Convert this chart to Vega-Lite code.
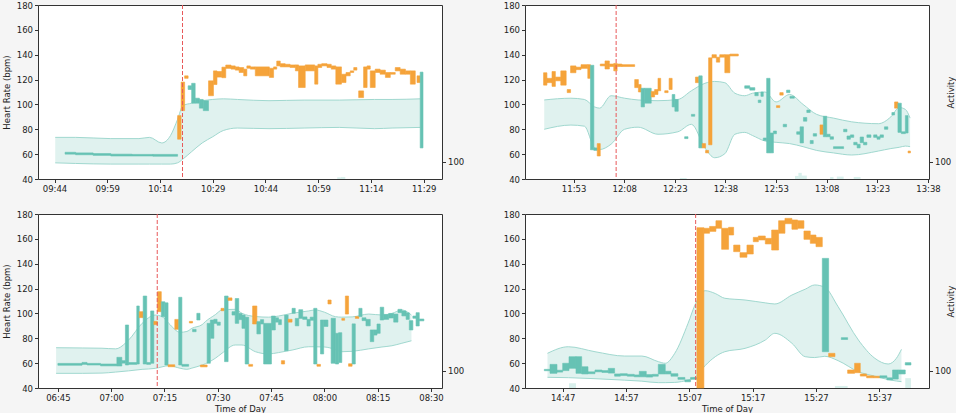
{
"$schema": "https://vega.github.io/schema/vega-lite/v6.json",
"background": "#f5f5f5",
"padding": {"left": 1, "top": 0, "right": 0, "bottom": 0},
"config": {
 "view": {"stroke": "#333333", "strokeWidth": 1, "fill": "white"},
 "axis": {"grid": false, "domain": false, "tickColor": "#333333", "tickSize": 3.5, "labelFont": "DejaVu Sans", "labelFontSize": 8.5, "labelColor": "#222222", "labelPadding": 2, "titleFont": "DejaVu Sans", "titleFontSize": 8.5, "titleFontWeight": "normal", "titleColor": "#222222", "titlePadding": 5},
 "axisX": {"titlePadding": 2}
},
"datasets": {
 "ev": [{"p":"A","t":620.4},{"p":"B","t":725.6},{"p":"C","t":432.96},{"p":"D","t":908.0}],
 "act": [
  {"p":"A","t":664.4,"t2":665.5,"a":10},{"p":"A","t":665.5,"t2":666.7,"a":12},
  {"p":"B","t":744.5,"t2":746.5,"a":6},{"p":"B","t":778.6,"t2":779.6,"a":18},{"p":"B","t":779.6,"t2":780.6,"a":36},{"p":"B","t":780.6,"t2":782.1,"a":20},{"p":"B","t":789.0,"t2":790.0,"a":12},{"p":"B","t":791.0,"t2":793.0,"a":14},{"p":"B","t":796.0,"t2":798.0,"a":12},
  {"p":"D","t":888.0,"t2":889.1,"a":28},{"p":"D","t":908.2,"t2":909.3,"a":15},{"p":"D","t":930.0,"t2":932.0,"a":12},{"p":"D","t":941.1,"t2":942.0,"a":58}
 ],
 "band": [
  {"p":"A","t":584.2,"lo":53,"hi":73.5},{"p":"A","t":590,"lo":52.5,"hi":73.5},{"p":"A","t":600,"lo":52,"hi":72.5},{"p":"A","t":608,"lo":52,"hi":72.5},{"p":"A","t":611,"lo":52,"hi":73.5},{"p":"A","t":614.5,"lo":52,"hi":69},{"p":"A","t":617,"lo":52,"hi":75},{"p":"A","t":619,"lo":53,"hi":88},{"p":"A","t":620.5,"lo":56,"hi":99},{"p":"A","t":623,"lo":62,"hi":101},{"p":"A","t":626,"lo":69,"hi":103},{"p":"A","t":629,"lo":74,"hi":104},{"p":"A","t":632,"lo":79,"hi":104.5},{"p":"A","t":636,"lo":81,"hi":104},{"p":"A","t":645,"lo":80.5,"hi":103},{"p":"A","t":655,"lo":81,"hi":103.5},{"p":"A","t":665,"lo":81.5,"hi":103.5},{"p":"A","t":675,"lo":80.5,"hi":104},{"p":"A","t":680,"lo":81,"hi":104},{"p":"A","t":688,"lo":81.5,"hi":104.5},
  {"p":"B","t":704.3,"lo":80,"hi":103.6},{"p":"B","t":712.2,"lo":83.4,"hi":105},{"p":"B","t":716.2,"lo":82.5,"hi":104},{"p":"B","t":719.2,"lo":65.2,"hi":98},{"p":"B","t":720.7,"lo":63.7,"hi":97},{"p":"B","t":724.1,"lo":68,"hi":107},{"p":"B","t":728.1,"lo":80,"hi":105},{"p":"B","t":732.1,"lo":81.7,"hi":103.6},{"p":"B","t":738.0,"lo":76,"hi":103},{"p":"B","t":743.9,"lo":78,"hi":104},{"p":"B","t":747.9,"lo":84,"hi":111},{"p":"B","t":751.9,"lo":65,"hi":117},{"p":"B","t":754.8,"lo":57.1,"hi":118.5},{"p":"B","t":757.8,"lo":60.3,"hi":117.5},{"p":"B","t":760.8,"lo":76,"hi":109},{"p":"B","t":763.7,"lo":77.5,"hi":107},{"p":"B","t":766.0,"lo":75,"hi":109},{"p":"B","t":769.7,"lo":70.6,"hi":110},{"p":"B","t":773,"lo":69.5,"hi":102},{"p":"B","t":777,"lo":68.5,"hi":108},{"p":"B","t":781,"lo":66,"hi":100},{"p":"B","t":785,"lo":63,"hi":92},{"p":"B","t":790,"lo":61,"hi":89},{"p":"B","t":795.4,"lo":59.3,"hi":86},{"p":"B","t":803.3,"lo":62.5,"hi":84.5},{"p":"B","t":807,"lo":64.5,"hi":90},{"p":"B","t":809.5,"lo":65.5,"hi":97.5},{"p":"B","t":811.3,"lo":66.5,"hi":96},{"p":"B","t":812.7,"lo":66,"hi":89},
  {"p":"C","t":404.5,"lo":51.8,"hi":72.4},{"p":"C","t":412,"lo":51.8,"hi":72.2},{"p":"C","t":417.4,"lo":52,"hi":72},{"p":"C","t":421.2,"lo":52.8,"hi":71.5},{"p":"C","t":424.9,"lo":53.8,"hi":78.6},{"p":"C","t":428.7,"lo":55,"hi":92},{"p":"C","t":432.4,"lo":55.8,"hi":98.7},{"p":"C","t":434.3,"lo":57,"hi":97.5},{"p":"C","t":436.2,"lo":58,"hi":92},{"p":"C","t":439.4,"lo":55.9,"hi":84.8},{"p":"C","t":441.3,"lo":55,"hi":85.5},{"p":"C","t":442.7,"lo":56,"hi":88},{"p":"C","t":445.6,"lo":58.5,"hi":91},{"p":"C","t":446.5,"lo":59.5,"hi":93.4},{"p":"C","t":449.3,"lo":63.9,"hi":99},{"p":"C","t":451.2,"lo":68,"hi":102.8},{"p":"C","t":454.9,"lo":74.6,"hi":103.3},{"p":"C","t":456.8,"lo":74.6,"hi":100.1},{"p":"C","t":460.6,"lo":69.2,"hi":97.5},{"p":"C","t":464.3,"lo":67.4,"hi":97},{"p":"C","t":467.1,"lo":68.5,"hi":97.9},{"p":"C","t":470.9,"lo":70.5,"hi":100.1},{"p":"C","t":475.6,"lo":73.2,"hi":102},{"p":"C","t":477.4,"lo":73.2,"hi":102.8},{"p":"C","t":480,"lo":73,"hi":101},{"p":"C","t":483.1,"lo":71,"hi":97.4},{"p":"C","t":484.9,"lo":69.2,"hi":97},{"p":"C","t":487.8,"lo":69.5,"hi":97.2},{"p":"C","t":492.5,"lo":71.5,"hi":99.5},{"p":"C","t":496.2,"lo":73,"hi":98.7},{"p":"C","t":499,"lo":74,"hi":100},{"p":"C","t":501.8,"lo":76,"hi":102.8},{"p":"C","t":504.5,"lo":78,"hi":98.7},
  {"p":"D","t":884.6,"lo":48.6,"hi":67.9},{"p":"D","t":887.9,"lo":48.3,"hi":73.2},{"p":"D","t":892.1,"lo":47.5,"hi":69.2},{"p":"D","t":896.8,"lo":46.3,"hi":65.7},{"p":"D","t":899.5,"lo":45.5,"hi":65.7},{"p":"D","t":902.1,"lo":44.3,"hi":61.2},{"p":"D","t":903.2,"lo":44.3,"hi":59.9},{"p":"D","t":904.7,"lo":44.5,"hi":67.9},{"p":"D","t":906.8,"lo":46.5,"hi":92},{"p":"D","t":908.0,"lo":49,"hi":108.1},{"p":"D","t":909.5,"lo":58,"hi":118.3},{"p":"D","t":911.1,"lo":65.2,"hi":116},{"p":"D","t":912.6,"lo":69.2,"hi":112.2},{"p":"D","t":915.8,"lo":71.9,"hi":110.8},{"p":"D","t":919.0,"lo":78.6,"hi":108.5},{"p":"D","t":920.5,"lo":84,"hi":107.6},{"p":"D","t":923.2,"lo":76,"hi":114.8},{"p":"D","t":925.3,"lo":65.2,"hi":119.5},{"p":"D","t":926.8,"lo":64.5,"hi":122.9},{"p":"D","t":928.4,"lo":65.5,"hi":121},{"p":"D","t":930.5,"lo":62,"hi":105.4},{"p":"D","t":933.7,"lo":53.1,"hi":78.6},{"p":"D","t":936.3,"lo":49.5,"hi":63.9},{"p":"D","t":938.4,"lo":46.8,"hi":59.3},{"p":"D","t":939.7,"lo":45.6,"hi":63.9},{"p":"D","t":940.5,"lo":45.1,"hi":71.1}
 ],
 "hr": [
  {"p":"A","t":587,"t2":590,"lo":60,"hi":61.5,"c":"T"},{"p":"A","t":590,"t2":595,"lo":59.5,"hi":61,"c":"T"},{"p":"A","t":595,"t2":600,"lo":59,"hi":60.5,"c":"T"},{"p":"A","t":600,"t2":606,"lo":58.5,"hi":60,"c":"T"},{"p":"A","t":606,"t2":612,"lo":58.5,"hi":59.8,"c":"T"},{"p":"A","t":612,"t2":619,"lo":58.3,"hi":59.8,"c":"T"},
  {"p":"A","t":619.0,"t2":620.0,"lo":72,"hi":91,"c":"O"},{"p":"A","t":620.0,"t2":621.0,"lo":95,"hi":118,"c":"O"},{"p":"A","t":621.0,"t2":622.0,"lo":121,"hi":123,"c":"O"},{"p":"A","t":622.0,"t2":623.0,"lo":112,"hi":115,"c":"T"},{"p":"A","t":623.0,"t2":624.0,"lo":101,"hi":117,"c":"T"},{"p":"A","t":624.0,"t2":625.2,"lo":101,"hi":105,"c":"T"},{"p":"A","t":625.2,"t2":626.3,"lo":97,"hi":104,"c":"T"},{"p":"A","t":626.3,"t2":627.8,"lo":95,"hi":103,"c":"T"},
  {"p":"A","t":627.8,"t2":629.2,"lo":107,"hi":119,"c":"O"},{"p":"A","t":629.2,"t2":630.2,"lo":116,"hi":127,"c":"O"},{"p":"A","t":630.2,"t2":631.6,"lo":122,"hi":126.5,"c":"O"},{"p":"A","t":631.6,"t2":632.7,"lo":121.5,"hi":130,"c":"O"},{"p":"A","t":632.7,"t2":634.2,"lo":129,"hi":131.7,"c":"O"},{"p":"A","t":634.2,"t2":635.4,"lo":128.4,"hi":131,"c":"O"},{"p":"A","t":635.4,"t2":636.5,"lo":127.6,"hi":130.2,"c":"O"},{"p":"A","t":636.5,"t2":637.8,"lo":125.7,"hi":129.7,"c":"O"},{"p":"A","t":637.8,"t2":638.7,"lo":123,"hi":128.4,"c":"O"},{"p":"A","t":638.7,"t2":639.7,"lo":129.1,"hi":131,"c":"O"},{"p":"A","t":639.7,"t2":641.1,"lo":128.4,"hi":130.2,"c":"O"},{"p":"A","t":641.1,"t2":645.1,"lo":123,"hi":130.2,"c":"O"},{"p":"A","t":645.1,"t2":646.3,"lo":121.7,"hi":129.1,"c":"O"},{"p":"A","t":646.3,"t2":647.2,"lo":128.4,"hi":130.2,"c":"O"},{"p":"A","t":647.2,"t2":648.2,"lo":131,"hi":134.9,"c":"O"},{"p":"A","t":648.2,"t2":649.6,"lo":130.2,"hi":132.8,"c":"O"},{"p":"A","t":649.6,"t2":651.0,"lo":130.2,"hi":132.3,"c":"O"},{"p":"A","t":651.0,"t2":652.5,"lo":129.7,"hi":131.8,"c":"O"},{"p":"A","t":652.5,"t2":653.4,"lo":127,"hi":131.8,"c":"O"},{"p":"A","t":653.4,"t2":655.3,"lo":113.6,"hi":131,"c":"O"},{"p":"A","t":655.3,"t2":658.0,"lo":127,"hi":131.8,"c":"O"},{"p":"A","t":658.0,"t2":658.9,"lo":116.3,"hi":131,"c":"O"},{"p":"A","t":658.9,"t2":660.0,"lo":129.7,"hi":132.3,"c":"O"},{"p":"A","t":660.0,"t2":661.5,"lo":131,"hi":132.8,"c":"O"},{"p":"A","t":661.5,"t2":662.7,"lo":129.7,"hi":132.3,"c":"O"},{"p":"A","t":662.7,"t2":664.0,"lo":128.4,"hi":131,"c":"O"},{"p":"A","t":664.0,"t2":665.6,"lo":116.3,"hi":130.2,"c":"O"},{"p":"A","t":665.6,"t2":666.9,"lo":117.6,"hi":124.3,"c":"O"},{"p":"A","t":666.9,"t2":668.1,"lo":123,"hi":125.7,"c":"O"},{"p":"A","t":668.1,"t2":669.1,"lo":125.7,"hi":127,"c":"O"},{"p":"A","t":669.1,"t2":670.0,"lo":127.6,"hi":129.7,"c":"O"},{"p":"A","t":670.5,"t2":671.9,"lo":105.5,"hi":110.9,"c":"O"},{"p":"A","t":671.9,"t2":672.9,"lo":113.6,"hi":130.2,"c":"O"},{"p":"A","t":672.9,"t2":673.8,"lo":128.4,"hi":131,"c":"O"},{"p":"A","t":673.8,"t2":675.2,"lo":113.6,"hi":127,"c":"O"},{"p":"A","t":675.2,"t2":676.6,"lo":125.7,"hi":128.4,"c":"O"},{"p":"A","t":676.6,"t2":678.1,"lo":124.3,"hi":127.6,"c":"O"},{"p":"A","t":678.1,"t2":679.5,"lo":121.7,"hi":125.7,"c":"O"},{"p":"A","t":679.5,"t2":680.9,"lo":124.3,"hi":125.7,"c":"O"},{"p":"A","t":680.9,"t2":682.3,"lo":127,"hi":129.7,"c":"O"},{"p":"A","t":682.3,"t2":683.8,"lo":124.3,"hi":128.4,"c":"O"},{"p":"A","t":683.8,"t2":685.2,"lo":124.3,"hi":127,"c":"O"},{"p":"A","t":685.2,"t2":686.6,"lo":116.3,"hi":127,"c":"O"},{"p":"A","t":687.1,"t2":688.0,"lo":117.6,"hi":123,"c":"O"},{"p":"A","t":688.0,"t2":688.8,"lo":65,"hi":126,"c":"T"},
  {"p":"B","t":704.1,"t2":705.1,"lo":115.5,"hi":125.5,"c":"O"},{"p":"B","t":705.1,"t2":706.6,"lo":117.5,"hi":121,"c":"O"},{"p":"B","t":706.6,"t2":707.6,"lo":114.5,"hi":126.5,"c":"O"},{"p":"B","t":707.6,"t2":709.2,"lo":119,"hi":122,"c":"O"},{"p":"B","t":709.2,"t2":710.8,"lo":115.5,"hi":127,"c":"O"},{"p":"B","t":711.1,"t2":712.1,"lo":109.5,"hi":112,"c":"O"},{"p":"B","t":712.1,"t2":713.7,"lo":125.5,"hi":131,"c":"O"},{"p":"B","t":713.7,"t2":715.2,"lo":128,"hi":130,"c":"O"},{"p":"B","t":715.2,"t2":717.2,"lo":129,"hi":132,"c":"O"},{"p":"B","t":717.2,"t2":718.0,"lo":121,"hi":132,"c":"O"},{"p":"B","t":718.0,"t2":719.0,"lo":63.5,"hi":131.5,"c":"T"},{"p":"B","t":719.0,"t2":720.0,"lo":63,"hi":65,"c":"T"},{"p":"B","t":720.0,"t2":720.9,"lo":58.5,"hi":68.5,"c":"O"},{"p":"B","t":720.9,"t2":722.3,"lo":131,"hi":132.5,"c":"O"},{"p":"B","t":722.3,"t2":723.6,"lo":128.5,"hi":135,"c":"O"},{"p":"B","t":723.6,"t2":724.9,"lo":130.5,"hi":132.5,"c":"O"},{"p":"B","t":724.9,"t2":725.9,"lo":127,"hi":133,"c":"O"},{"p":"B","t":725.9,"t2":727.3,"lo":130.5,"hi":132.5,"c":"O"},{"p":"B","t":727.3,"t2":731.1,"lo":130.5,"hi":132,"c":"O"},{"p":"B","t":731.1,"t2":732.2,"lo":113.5,"hi":120,"c":"O"},{"p":"B","t":732.2,"t2":733.0,"lo":110,"hi":116,"c":"O"},{"p":"B","t":733.0,"t2":734.0,"lo":98,"hi":113,"c":"T"},{"p":"B","t":734.0,"t2":736.0,"lo":101,"hi":113,"c":"T"},{"p":"B","t":736.0,"t2":737.0,"lo":106,"hi":110.5,"c":"O"},{"p":"B","t":737.0,"t2":738.0,"lo":108,"hi":112,"c":"O"},{"p":"B","t":738.0,"t2":738.8,"lo":111,"hi":121,"c":"O"},{"p":"B","t":740.0,"t2":741.0,"lo":109.5,"hi":111,"c":"O"},{"p":"B","t":741.3,"t2":742.2,"lo":112,"hi":121,"c":"O"},{"p":"B","t":742.2,"t2":743.0,"lo":98,"hi":108,"c":"T"},{"p":"B","t":743.0,"t2":744.0,"lo":94.5,"hi":104,"c":"T"},{"p":"B","t":745.9,"t2":746.9,"lo":72.5,"hi":74,"c":"T"},{"p":"B","t":747.9,"t2":748.9,"lo":90.5,"hi":92,"c":"T"},{"p":"B","t":749.1,"t2":750.1,"lo":117.5,"hi":122,"c":"O"},{"p":"B","t":750.1,"t2":751.1,"lo":65,"hi":123,"c":"T"},{"p":"B","t":751.1,"t2":752.1,"lo":65,"hi":68.5,"c":"O"},{"p":"B","t":752.1,"t2":753.0,"lo":61,"hi":63,"c":"O"},{"p":"B","t":753.0,"t2":754.0,"lo":67.5,"hi":137.5,"c":"O"},{"p":"B","t":754.0,"t2":755.3,"lo":137.5,"hi":140,"c":"O"},{"p":"B","t":755.3,"t2":756.3,"lo":134,"hi":138,"c":"O"},{"p":"B","t":756.3,"t2":757.8,"lo":138,"hi":140,"c":"O"},{"p":"B","t":757.8,"t2":759.3,"lo":125.5,"hi":140,"c":"O"},{"p":"B","t":759.3,"t2":761.8,"lo":139,"hi":140.5,"c":"O"},
  {"p":"B","t":763.7,"t2":765.2,"lo":113,"hi":115,"c":"T"},{"p":"B","t":765.2,"t2":766.7,"lo":111.5,"hi":113.5,"c":"T"},{"p":"B","t":766.7,"t2":767.7,"lo":107,"hi":109.5,"c":"T"},{"p":"B","t":767.7,"t2":768.5,"lo":101.5,"hi":103.5,"c":"T"},{"p":"B","t":768.5,"t2":769.2,"lo":106.5,"hi":110,"c":"T"},{"p":"B","t":769.2,"t2":770.2,"lo":71,"hi":73,"c":"T"},{"p":"B","t":770.2,"t2":771.2,"lo":61,"hi":121,"c":"T"},{"p":"B","t":771.2,"t2":772.2,"lo":61,"hi":77,"c":"T"},{"p":"B","t":772.2,"t2":773.1,"lo":76.4,"hi":78.6,"c":"T"},{"p":"B","t":773.1,"t2":774.1,"lo":97.5,"hi":99,"c":"O"},{"p":"B","t":774.1,"t2":775.1,"lo":107.5,"hi":109.5,"c":"O"},{"p":"B","t":775.1,"t2":776.1,"lo":82,"hi":84,"c":"T"},{"p":"B","t":776.1,"t2":777.1,"lo":109.5,"hi":111.5,"c":"T"},{"p":"B","t":777.1,"t2":778.4,"lo":105,"hi":106.5,"c":"T"},{"p":"B","t":779.1,"t2":780.1,"lo":76,"hi":78,"c":"T"},{"p":"B","t":780.1,"t2":781.1,"lo":69,"hi":82,"c":"T"},{"p":"B","t":781.1,"t2":782.1,"lo":86.5,"hi":89.5,"c":"T"},{"p":"B","t":782.1,"t2":783.1,"lo":93.5,"hi":95.5,"c":"T"},{"p":"B","t":783.1,"t2":784.0,"lo":68.5,"hi":71,"c":"T"},{"p":"B","t":784.0,"t2":785.0,"lo":74.5,"hi":76.5,"c":"T"},{"p":"B","t":786.0,"t2":787.0,"lo":76,"hi":83.5,"c":"O"},{"p":"B","t":787.0,"t2":788.0,"lo":74,"hi":90.5,"c":"T"},{"p":"B","t":788.0,"t2":789.0,"lo":74,"hi":76,"c":"T"},{"p":"B","t":789.0,"t2":790.0,"lo":72,"hi":74,"c":"T"},{"p":"B","t":790.0,"t2":793.0,"lo":64.5,"hi":66,"c":"T"},{"p":"B","t":793.0,"t2":794.0,"lo":78,"hi":80,"c":"T"},{"p":"B","t":794.0,"t2":795.0,"lo":72,"hi":74.6,"c":"T"},{"p":"B","t":795.0,"t2":796.0,"lo":73.5,"hi":75.5,"c":"T"},{"p":"B","t":796.0,"t2":797.0,"lo":67.5,"hi":69.5,"c":"T"},{"p":"B","t":797.0,"t2":797.9,"lo":65,"hi":68,"c":"T"},{"p":"B","t":797.9,"t2":798.9,"lo":69.2,"hi":73.8,"c":"T"},{"p":"B","t":798.9,"t2":799.9,"lo":67.5,"hi":69.5,"c":"T"},{"p":"B","t":799.9,"t2":801.1,"lo":73.5,"hi":75.5,"c":"T"},{"p":"B","t":801.9,"t2":802.9,"lo":73.5,"hi":75.5,"c":"T"},{"p":"B","t":802.9,"t2":803.8,"lo":72,"hi":74,"c":"T"},{"p":"B","t":803.8,"t2":804.8,"lo":73.5,"hi":75.5,"c":"T"},{"p":"B","t":805.1,"t2":806.1,"lo":80,"hi":82,"c":"T"},{"p":"B","t":807.3,"t2":808.1,"lo":91.5,"hi":93.5,"c":"T"},{"p":"B","t":808.1,"t2":809.1,"lo":97,"hi":102,"c":"O"},{"p":"B","t":809.1,"t2":810.1,"lo":77.5,"hi":101,"c":"T"},{"p":"B","t":810.1,"t2":811.3,"lo":76.5,"hi":78,"c":"T"},{"p":"B","t":811.3,"t2":812.1,"lo":77,"hi":91,"c":"T"},{"p":"B","t":812.1,"t2":812.8,"lo":61,"hi":62.5,"c":"O"},
  {"p":"C","t":405.0,"t2":411.8,"lo":58.3,"hi":59.8,"c":"T"},{"p":"C","t":411.8,"t2":413.2,"lo":59,"hi":60.6,"c":"T"},{"p":"C","t":413.2,"t2":417,"lo":58.5,"hi":59.8,"c":"T"},{"p":"C","t":417,"t2":421.6,"lo":57.8,"hi":59.3,"c":"T"},{"p":"C","t":421.6,"t2":423.0,"lo":57.7,"hi":64.7,"c":"T"},{"p":"C","t":423.0,"t2":424.0,"lo":60,"hi":62,"c":"T"},{"p":"C","t":424.0,"t2":424.9,"lo":58.5,"hi":90.7,"c":"T"},{"p":"C","t":424.9,"t2":427.2,"lo":59,"hi":60.5,"c":"T"},{"p":"C","t":427.2,"t2":427.9,"lo":59.3,"hi":106,"c":"T"},{"p":"C","t":427.9,"t2":429.0,"lo":96.6,"hi":101.4,"c":"O"},{"p":"C","t":429.0,"t2":430.0,"lo":59.3,"hi":114,"c":"T"},{"p":"C","t":430.0,"t2":431.1,"lo":59,"hi":60.5,"c":"T"},{"p":"C","t":431.1,"t2":432.0,"lo":59.9,"hi":102,"c":"T"},{"p":"C","t":432.0,"t2":433.0,"lo":91,"hi":93.6,"c":"O"},{"p":"C","t":433.0,"t2":434.1,"lo":101.4,"hi":117.5,"c":"O"},{"p":"C","t":434.1,"t2":435.1,"lo":97.4,"hi":109.4,"c":"T"},{"p":"C","t":435.1,"t2":436.0,"lo":58.5,"hi":108.5,"c":"T"},{"p":"C","t":436.0,"t2":437.9,"lo":57.1,"hi":58.7,"c":"O"},{"p":"C","t":437.9,"t2":439.0,"lo":87.2,"hi":95.2,"c":"O"},{"p":"C","t":439.0,"t2":439.9,"lo":58.5,"hi":113,"c":"T"},{"p":"C","t":439.9,"t2":441.8,"lo":57.5,"hi":59,"c":"T"},{"p":"C","t":442.0,"t2":442.9,"lo":92.3,"hi":93.6,"c":"O"},{"p":"C","t":442.9,"t2":443.9,"lo":85.3,"hi":87.2,"c":"T"},{"p":"C","t":444.1,"t2":445.0,"lo":94.7,"hi":100.1,"c":"T"},{"p":"C","t":445.1,"t2":447.0,"lo":57,"hi":58.5,"c":"O"},{"p":"C","t":447.0,"t2":447.9,"lo":59.9,"hi":92,"c":"T"},{"p":"C","t":447.9,"t2":448.9,"lo":80,"hi":94.7,"c":"T"},{"p":"C","t":448.9,"t2":449.8,"lo":92,"hi":95.3,"c":"T"},{"p":"C","t":449.8,"t2":450.7,"lo":90.5,"hi":93,"c":"T"},{"p":"C","t":450.9,"t2":451.8,"lo":102.2,"hi":104.1,"c":"O"},{"p":"C","t":451.9,"t2":452.9,"lo":61.2,"hi":114,"c":"T"},{"p":"C","t":452.9,"t2":454.0,"lo":110.5,"hi":112.5,"c":"O"},{"p":"C","t":454.0,"t2":454.9,"lo":98.7,"hi":101.4,"c":"T"},{"p":"C","t":454.9,"t2":455.9,"lo":92,"hi":112,"c":"T"},{"p":"C","t":455.9,"t2":456.8,"lo":95,"hi":100,"c":"T"},{"p":"C","t":456.8,"t2":457.7,"lo":88,"hi":98.7,"c":"T"},{"p":"C","t":457.7,"t2":458.7,"lo":59.3,"hi":97,"c":"T"},{"p":"C","t":458.7,"t2":459.8,"lo":57.5,"hi":59,"c":"O"},{"p":"C","t":459.8,"t2":461.0,"lo":91.5,"hi":106,"c":"O"},{"p":"C","t":461.0,"t2":462.0,"lo":83.5,"hi":93.4,"c":"T"},{"p":"C","t":462.0,"t2":462.9,"lo":91.5,"hi":95,"c":"T"},{"p":"C","t":462.9,"t2":465.1,"lo":59.3,"hi":92,"c":"T"},{"p":"C","t":465.1,"t2":466.2,"lo":86.7,"hi":97.9,"c":"T"},{"p":"C","t":466.2,"t2":467.1,"lo":93,"hi":96.5,"c":"T"},{"p":"C","t":467.1,"t2":467.9,"lo":91,"hi":95,"c":"T"},{"p":"C","t":467.9,"t2":468.8,"lo":59.3,"hi":62,"c":"O"},{"p":"C","t":468.8,"t2":469.8,"lo":70,"hi":98.7,"c":"T"},{"p":"C","t":469.8,"t2":470.9,"lo":93,"hi":95.3,"c":"O"},{"p":"C","t":470.9,"t2":471.8,"lo":100.1,"hi":104.1,"c":"T"},{"p":"C","t":471.8,"t2":472.8,"lo":90,"hi":96,"c":"T"},{"p":"C","t":472.8,"t2":473.9,"lo":96,"hi":103,"c":"T"},{"p":"C","t":473.9,"t2":475.1,"lo":95.2,"hi":97.2,"c":"T"},{"p":"C","t":475.1,"t2":476.0,"lo":89.9,"hi":95.2,"c":"T"},{"p":"C","t":476.0,"t2":477.0,"lo":94.5,"hi":97,"c":"T"},{"p":"C","t":477.0,"t2":477.9,"lo":59.3,"hi":104.1,"c":"T"},{"p":"C","t":477.9,"t2":478.9,"lo":57.5,"hi":59,"c":"O"},{"p":"C","t":478.9,"t2":479.8,"lo":67.4,"hi":94.7,"c":"T"},{"p":"C","t":479.8,"t2":481.0,"lo":89.5,"hi":94.7,"c":"T"},{"p":"C","t":481.0,"t2":481.9,"lo":107.6,"hi":110.8,"c":"O"},{"p":"C","t":481.9,"t2":483.1,"lo":59.9,"hi":96.1,"c":"T"},{"p":"C","t":483.1,"t2":484.0,"lo":59.3,"hi":84,"c":"T"},{"p":"C","t":484.0,"t2":484.9,"lo":60.5,"hi":84.5,"c":"T"},{"p":"C","t":484.9,"t2":485.7,"lo":94.5,"hi":96,"c":"O"},{"p":"C","t":485.9,"t2":486.8,"lo":99.5,"hi":114,"c":"O"},{"p":"C","t":486.8,"t2":487.8,"lo":57.5,"hi":59.5,"c":"O"},{"p":"C","t":487.8,"t2":488.7,"lo":59.3,"hi":91.6,"c":"T"},{"p":"C","t":488.7,"t2":489.7,"lo":96,"hi":97.5,"c":"O"},{"p":"C","t":489.7,"t2":490.6,"lo":97.4,"hi":104.1,"c":"T"},{"p":"C","t":490.6,"t2":491.7,"lo":94.2,"hi":96.5,"c":"T"},{"p":"C","t":491.7,"t2":492.9,"lo":90,"hi":95.2,"c":"T"},{"p":"C","t":492.9,"t2":493.9,"lo":77.3,"hi":86.7,"c":"T"},{"p":"C","t":493.9,"t2":494.8,"lo":82.6,"hi":86.7,"c":"T"},{"p":"C","t":494.8,"t2":495.7,"lo":84,"hi":91.5,"c":"T"},{"p":"C","t":495.7,"t2":496.7,"lo":94.7,"hi":105,"c":"T"},{"p":"C","t":496.7,"t2":498.1,"lo":95.2,"hi":99.2,"c":"T"},{"p":"C","t":498.1,"t2":499.5,"lo":96.3,"hi":100,"c":"T"},{"p":"C","t":499.5,"t2":500.7,"lo":93,"hi":99.5,"c":"T"},{"p":"C","t":500.7,"t2":501.8,"lo":100.6,"hi":103.3,"c":"T"},{"p":"C","t":501.8,"t2":503.0,"lo":98,"hi":102,"c":"T"},{"p":"C","t":503.0,"t2":503.9,"lo":95.2,"hi":100.5,"c":"T"},{"p":"C","t":503.9,"t2":504.9,"lo":86.7,"hi":94.2,"c":"T"},{"p":"C","t":504.9,"t2":505.8,"lo":96.1,"hi":97.9,"c":"T"},{"p":"C","t":505.8,"t2":506.7,"lo":89.9,"hi":100.6,"c":"T"},{"p":"C","t":506.7,"t2":508.0,"lo":94,"hi":95.5,"c":"T"},
  {"p":"D","t":884.1,"t2":885.0,"lo":53.9,"hi":55,"c":"T"},{"p":"D","t":885.0,"t2":886.1,"lo":51.8,"hi":59,"c":"T"},{"p":"D","t":886.1,"t2":887.0,"lo":52.8,"hi":54.3,"c":"T"},{"p":"D","t":887.0,"t2":888.0,"lo":54,"hi":59.9,"c":"T"},{"p":"D","t":888.0,"t2":889.1,"lo":55.8,"hi":65.2,"c":"T"},{"p":"D","t":889.1,"t2":890.0,"lo":51.8,"hi":65.2,"c":"T"},{"p":"D","t":890.0,"t2":891.0,"lo":51.3,"hi":57.1,"c":"T"},{"p":"D","t":891.0,"t2":892.1,"lo":51.5,"hi":53,"c":"T"},{"p":"D","t":892.1,"t2":893.2,"lo":53,"hi":54.5,"c":"T"},{"p":"D","t":893.2,"t2":894.2,"lo":52.5,"hi":54,"c":"T"},{"p":"D","t":894.2,"t2":895.2,"lo":52,"hi":55.8,"c":"T"},{"p":"D","t":895.2,"t2":896.1,"lo":49.5,"hi":51.3,"c":"T"},{"p":"D","t":896.1,"t2":897.2,"lo":50,"hi":51.5,"c":"T"},{"p":"D","t":897.2,"t2":898.3,"lo":49.5,"hi":51,"c":"T"},{"p":"D","t":898.3,"t2":899.1,"lo":49,"hi":50.5,"c":"T"},{"p":"D","t":899.1,"t2":900.2,"lo":49,"hi":53.4,"c":"T"},{"p":"D","t":900.2,"t2":901.2,"lo":48.8,"hi":50.8,"c":"T"},{"p":"D","t":901.2,"t2":902.1,"lo":49.5,"hi":51,"c":"T"},{"p":"D","t":902.1,"t2":903.2,"lo":51.3,"hi":59,"c":"T"},{"p":"D","t":903.2,"t2":904.1,"lo":51.3,"hi":53.5,"c":"T"},{"p":"D","t":904.1,"t2":905.2,"lo":49.5,"hi":51.5,"c":"T"},{"p":"D","t":905.2,"t2":906.3,"lo":47,"hi":48.5,"c":"T"},{"p":"D","t":906.3,"t2":907.2,"lo":45,"hi":46.5,"c":"T"},{"p":"D","t":907.2,"t2":908.2,"lo":47,"hi":48.5,"c":"T"},
  {"p":"D","t":908.2,"t2":909.3,"lo":40,"hi":169,"c":"O"},{"p":"D","t":909.3,"t2":910.2,"lo":164.5,"hi":168.5,"c":"O"},{"p":"D","t":910.2,"t2":911.2,"lo":166,"hi":170,"c":"O"},{"p":"D","t":911.2,"t2":912.1,"lo":168.5,"hi":174.6,"c":"O"},{"p":"D","t":912.1,"t2":913.2,"lo":151.6,"hi":168.5,"c":"O"},{"p":"D","t":913.2,"t2":914.0,"lo":163.1,"hi":169.3,"c":"O"},{"p":"D","t":914.0,"t2":915.0,"lo":149.7,"hi":155,"c":"O"},{"p":"D","t":915.0,"t2":916.1,"lo":145.2,"hi":148.9,"c":"O"},{"p":"D","t":916.1,"t2":917.1,"lo":147.8,"hi":155,"c":"O"},{"p":"D","t":917.1,"t2":917.9,"lo":157.7,"hi":161.2,"c":"O"},{"p":"D","t":917.9,"t2":919.0,"lo":159.1,"hi":162.3,"c":"O"},{"p":"D","t":919.0,"t2":920.0,"lo":155.9,"hi":160.4,"c":"O"},{"p":"D","t":920.0,"t2":921.1,"lo":151,"hi":167.1,"c":"O"},{"p":"D","t":921.1,"t2":922.1,"lo":164.5,"hi":174.6,"c":"O"},{"p":"D","t":922.1,"t2":923.2,"lo":172.2,"hi":176.5,"c":"O"},{"p":"D","t":923.2,"t2":924.1,"lo":167.7,"hi":175.2,"c":"O"},{"p":"D","t":924.1,"t2":925.1,"lo":168.5,"hi":174.6,"c":"O"},{"p":"D","t":925.1,"t2":926.1,"lo":159.6,"hi":166.3,"c":"O"},{"p":"D","t":926.1,"t2":927.0,"lo":156.4,"hi":163.1,"c":"O"},{"p":"D","t":927.0,"t2":928.0,"lo":153.7,"hi":161.2,"c":"O"},{"p":"D","t":928.0,"t2":929.0,"lo":69.2,"hi":144.3,"c":"T"},{"p":"D","t":929.0,"t2":930.0,"lo":65.2,"hi":67.9,"c":"O"},{"p":"D","t":931.0,"t2":932.0,"lo":79,"hi":80.5,"c":"T"},{"p":"D","t":932.0,"t2":933.1,"lo":51.8,"hi":54.5,"c":"O"},{"p":"D","t":933.1,"t2":934.0,"lo":52.3,"hi":59.9,"c":"O"},{"p":"D","t":934.0,"t2":935.0,"lo":49.6,"hi":51.3,"c":"O"},{"p":"D","t":935.0,"t2":936.1,"lo":48.2,"hi":49.8,"c":"O"},{"p":"D","t":936.1,"t2":937.1,"lo":48.2,"hi":49.5,"c":"O"},{"p":"D","t":937.1,"t2":938.2,"lo":48.2,"hi":49.8,"c":"T"},{"p":"D","t":938.2,"t2":939.1,"lo":46.5,"hi":48.2,"c":"T"},{"p":"D","t":939.1,"t2":940.0,"lo":47.2,"hi":54.5,"c":"T"},{"p":"D","t":940.0,"t2":941.1,"lo":51.3,"hi":54.5,"c":"T"},{"p":"D","t":941.1,"t2":942.0,"lo":58.5,"hi":60.4,"c":"T"}
 ]
},
"vconcat": [
 {"hconcat": [
  {"width": 404, "height": 174,
   "encoding": {"x": {"field": "t", "type": "quantitative", "scale": {"domain": [579.3, 694.2], "nice": false, "zero": false}, "axis": {"values": [584, 599, 614, 629, 644, 659, 674, 689], "labelExpr": "timeFormat(datetime(2000, 0, 1, 0, datum.value), '%H:%M')", "title": null}}},
   "layer": [
    {"data": {"name": "band"}, "transform": [{"filter": "datum.p === 'A'"}], "mark": {"type": "area", "interpolate": "monotone", "color": "#e0f2ef"}, "encoding": {"y": {"field": "lo", "type": "quantitative", "scale": {"domain": [40, 180], "nice": false, "zero": false}, "axis": {"values": [40, 60, 80, 100, 120, 140, 160, 180], "title": "Heart Rate (bpm)"}}, "y2": {"field": "hi"}}},
    {"data": {"name": "band"}, "transform": [{"filter": "datum.p === 'A'"}], "mark": {"type": "line", "interpolate": "monotone", "color": "#a0d8cf", "strokeWidth": 1}, "encoding": {"y": {"field": "hi", "type": "quantitative", "scale": {"domain": [40, 180], "nice": false, "zero": false}, "axis": null}}},
    {"data": {"name": "band"}, "transform": [{"filter": "datum.p === 'A'"}], "mark": {"type": "line", "interpolate": "monotone", "color": "#a0d8cf", "strokeWidth": 1}, "encoding": {"y": {"field": "lo", "type": "quantitative", "scale": {"domain": [40, 180], "nice": false, "zero": false}, "axis": null}}},
    {"data": {"name": "act"}, "transform": [{"filter": "datum.p === 'A'"}], "mark": {"type": "rect", "color": "#66c2b4", "opacity": 0.25}, "encoding": {"x2": {"field": "t2"}, "y": {"field": "a", "type": "quantitative", "scale": {"domain": [0, 1023], "nice": false, "zero": true}, "axis": {"orient": "right", "values": [100], "title": null}}, "y2": {"datum": 0}}},
    {"data": {"name": "hr"}, "transform": [{"filter": "datum.p === 'A'"}], "mark": {"type": "rect", "strokeWidth": 0.6}, "encoding": {"x2": {"field": "t2"}, "y": {"field": "lo", "type": "quantitative", "scale": {"domain": [40, 180], "nice": false, "zero": false}, "axis": null}, "y2": {"field": "hi"}, "color": {"field": "c", "type": "nominal", "scale": {"domain": ["O", "T"], "range": ["#f5a33a", "#66c2b4"]}, "legend": null}, "stroke": {"field": "c", "type": "nominal", "scale": {"domain": ["O", "T"], "range": ["#f5a33a", "#66c2b4"]}, "legend": null}}},
    {"data": {"name": "ev"}, "transform": [{"filter": "datum.p === 'A'"}], "mark": {"type": "rule", "color": "#e8595a", "strokeDash": [4, 2], "strokeWidth": 1}, "encoding": {}}
   ],
   "resolve": {"scale": {"y": "independent"}, "axis": {"y": "independent"}}
  },
  {"width": 404, "height": 174,
   "encoding": {"x": {"field": "t", "type": "quantitative", "scale": {"domain": [698.6, 818.3], "nice": false, "zero": false}, "axis": {"values": [713, 728, 743, 758, 773, 788, 803, 818], "labelExpr": "timeFormat(datetime(2000, 0, 1, 0, datum.value), '%H:%M')", "title": null}}},
   "layer": [
    {"data": {"name": "band"}, "transform": [{"filter": "datum.p === 'B'"}], "mark": {"type": "area", "interpolate": "monotone", "color": "#e0f2ef"}, "encoding": {"y": {"field": "lo", "type": "quantitative", "scale": {"domain": [40, 180], "nice": false, "zero": false}, "axis": {"values": [40, 60, 80, 100, 120, 140, 160, 180], "title": null}}, "y2": {"field": "hi"}}},
    {"data": {"name": "band"}, "transform": [{"filter": "datum.p === 'B'"}], "mark": {"type": "line", "interpolate": "monotone", "color": "#a0d8cf", "strokeWidth": 1}, "encoding": {"y": {"field": "hi", "type": "quantitative", "scale": {"domain": [40, 180], "nice": false, "zero": false}, "axis": null}}},
    {"data": {"name": "band"}, "transform": [{"filter": "datum.p === 'B'"}], "mark": {"type": "line", "interpolate": "monotone", "color": "#a0d8cf", "strokeWidth": 1}, "encoding": {"y": {"field": "lo", "type": "quantitative", "scale": {"domain": [40, 180], "nice": false, "zero": false}, "axis": null}}},
    {"data": {"name": "act"}, "transform": [{"filter": "datum.p === 'B'"}], "mark": {"type": "rect", "color": "#66c2b4", "opacity": 0.25}, "encoding": {"x2": {"field": "t2"}, "y": {"field": "a", "type": "quantitative", "scale": {"domain": [0, 1023], "nice": false, "zero": true}, "axis": {"orient": "right", "values": [100], "title": "Activity", "titleAngle": 270}}, "y2": {"datum": 0}}},
    {"data": {"name": "hr"}, "transform": [{"filter": "datum.p === 'B'"}], "mark": {"type": "rect", "strokeWidth": 0.6}, "encoding": {"x2": {"field": "t2"}, "y": {"field": "lo", "type": "quantitative", "scale": {"domain": [40, 180], "nice": false, "zero": false}, "axis": null}, "y2": {"field": "hi"}, "color": {"field": "c", "type": "nominal", "scale": {"domain": ["O", "T"], "range": ["#f5a33a", "#66c2b4"]}, "legend": null}, "stroke": {"field": "c", "type": "nominal", "scale": {"domain": ["O", "T"], "range": ["#f5a33a", "#66c2b4"]}, "legend": null}}},
    {"data": {"name": "ev"}, "transform": [{"filter": "datum.p === 'B'"}], "mark": {"type": "rule", "color": "#e8595a", "strokeDash": [4, 2], "strokeWidth": 1}, "encoding": {}}
   ],
   "resolve": {"scale": {"y": "independent"}, "axis": {"y": "independent"}}
  }
 ], "spacing": 37},
 {"hconcat": [
  {"width": 404, "height": 174,
   "encoding": {"x": {"field": "t", "type": "quantitative", "scale": {"domain": [399.4, 513.1], "nice": false, "zero": false}, "axis": {"values": [405, 420, 435, 450, 465, 480, 495, 510], "labelExpr": "timeFormat(datetime(2000, 0, 1, 0, datum.value), '%H:%M')", "title": "Time of Day"}}},
   "layer": [
    {"data": {"name": "band"}, "transform": [{"filter": "datum.p === 'C'"}], "mark": {"type": "area", "interpolate": "monotone", "color": "#e0f2ef"}, "encoding": {"y": {"field": "lo", "type": "quantitative", "scale": {"domain": [40, 180], "nice": false, "zero": false}, "axis": {"values": [40, 60, 80, 100, 120, 140, 160, 180], "title": "Heart Rate (bpm)"}}, "y2": {"field": "hi"}}},
    {"data": {"name": "band"}, "transform": [{"filter": "datum.p === 'C'"}], "mark": {"type": "line", "interpolate": "monotone", "color": "#a0d8cf", "strokeWidth": 1}, "encoding": {"y": {"field": "hi", "type": "quantitative", "scale": {"domain": [40, 180], "nice": false, "zero": false}, "axis": null}}},
    {"data": {"name": "band"}, "transform": [{"filter": "datum.p === 'C'"}], "mark": {"type": "line", "interpolate": "monotone", "color": "#a0d8cf", "strokeWidth": 1}, "encoding": {"y": {"field": "lo", "type": "quantitative", "scale": {"domain": [40, 180], "nice": false, "zero": false}, "axis": null}}},
    {"data": {"name": "act"}, "transform": [{"filter": "datum.p === 'C'"}], "mark": {"type": "rect", "color": "#66c2b4", "opacity": 0.25}, "encoding": {"x2": {"field": "t2"}, "y": {"field": "a", "type": "quantitative", "scale": {"domain": [0, 1023], "nice": false, "zero": true}, "axis": {"orient": "right", "values": [100], "title": null}}, "y2": {"datum": 0}}},
    {"data": {"name": "hr"}, "transform": [{"filter": "datum.p === 'C'"}], "mark": {"type": "rect", "strokeWidth": 0.6}, "encoding": {"x2": {"field": "t2"}, "y": {"field": "lo", "type": "quantitative", "scale": {"domain": [40, 180], "nice": false, "zero": false}, "axis": null}, "y2": {"field": "hi"}, "color": {"field": "c", "type": "nominal", "scale": {"domain": ["O", "T"], "range": ["#f5a33a", "#66c2b4"]}, "legend": null}, "stroke": {"field": "c", "type": "nominal", "scale": {"domain": ["O", "T"], "range": ["#f5a33a", "#66c2b4"]}, "legend": null}}},
    {"data": {"name": "ev"}, "transform": [{"filter": "datum.p === 'C'"}], "mark": {"type": "rule", "color": "#e8595a", "strokeDash": [4, 2], "strokeWidth": 1}, "encoding": {}}
   ],
   "resolve": {"scale": {"y": "independent"}, "axis": {"y": "independent"}}
  },
  {"width": 404, "height": 174,
   "encoding": {"x": {"field": "t", "type": "quantitative", "scale": {"domain": [881.05, 944.85], "nice": false, "zero": false}, "axis": {"values": [887, 897, 907, 917, 927, 937], "labelExpr": "timeFormat(datetime(2000, 0, 1, 0, datum.value), '%H:%M')", "title": "Time of Day"}}},
   "layer": [
    {"data": {"name": "band"}, "transform": [{"filter": "datum.p === 'D'"}], "mark": {"type": "area", "interpolate": "monotone", "color": "#e0f2ef"}, "encoding": {"y": {"field": "lo", "type": "quantitative", "scale": {"domain": [40, 180], "nice": false, "zero": false}, "axis": {"values": [40, 60, 80, 100, 120, 140, 160, 180], "title": null}}, "y2": {"field": "hi"}}},
    {"data": {"name": "band"}, "transform": [{"filter": "datum.p === 'D'"}], "mark": {"type": "line", "interpolate": "monotone", "color": "#a0d8cf", "strokeWidth": 1}, "encoding": {"y": {"field": "hi", "type": "quantitative", "scale": {"domain": [40, 180], "nice": false, "zero": false}, "axis": null}}},
    {"data": {"name": "band"}, "transform": [{"filter": "datum.p === 'D'"}], "mark": {"type": "line", "interpolate": "monotone", "color": "#a0d8cf", "strokeWidth": 1}, "encoding": {"y": {"field": "lo", "type": "quantitative", "scale": {"domain": [40, 180], "nice": false, "zero": false}, "axis": null}}},
    {"data": {"name": "act"}, "transform": [{"filter": "datum.p === 'D'"}], "mark": {"type": "rect", "color": "#66c2b4", "opacity": 0.25}, "encoding": {"x2": {"field": "t2"}, "y": {"field": "a", "type": "quantitative", "scale": {"domain": [0, 1023], "nice": false, "zero": true}, "axis": {"orient": "right", "values": [100], "title": "Activity", "titleAngle": 270}}, "y2": {"datum": 0}}},
    {"data": {"name": "hr"}, "transform": [{"filter": "datum.p === 'D'"}], "mark": {"type": "rect", "strokeWidth": 0.6}, "encoding": {"x2": {"field": "t2"}, "y": {"field": "lo", "type": "quantitative", "scale": {"domain": [40, 180], "nice": false, "zero": false}, "axis": null}, "y2": {"field": "hi"}, "color": {"field": "c", "type": "nominal", "scale": {"domain": ["O", "T"], "range": ["#f5a33a", "#66c2b4"]}, "legend": null}, "stroke": {"field": "c", "type": "nominal", "scale": {"domain": ["O", "T"], "range": ["#f5a33a", "#66c2b4"]}, "legend": null}}},
    {"data": {"name": "ev"}, "transform": [{"filter": "datum.p === 'D'"}], "mark": {"type": "rule", "color": "#e8595a", "strokeDash": [4, 2], "strokeWidth": 1}, "encoding": {}}
   ],
   "resolve": {"scale": {"y": "independent"}, "axis": {"y": "independent"}}
  }
 ], "spacing": 37}
],
"spacing": 15
}
